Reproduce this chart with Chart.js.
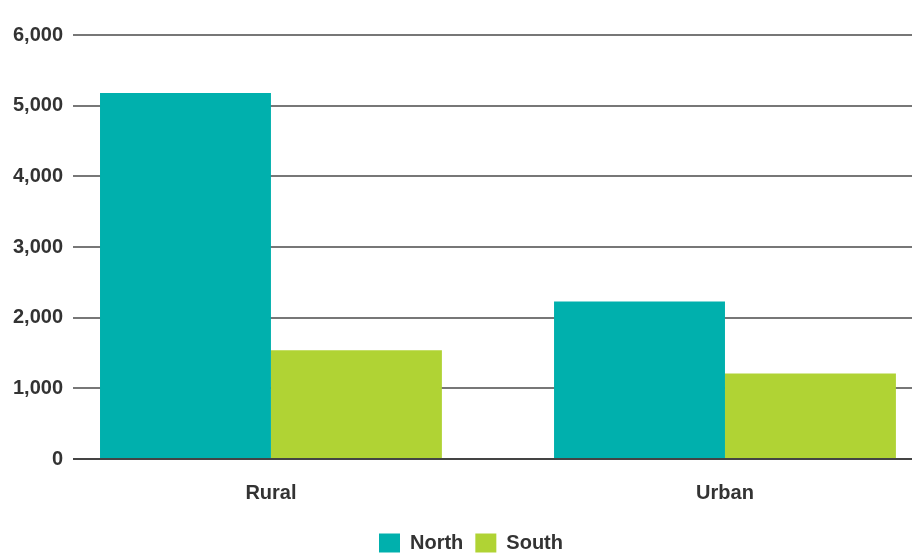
<!DOCTYPE html>
<html>
<head>
<meta charset="utf-8">
<script src="https://cdn.jsdelivr.net/npm/chart.js@4"></script>
<style>
  html, body { margin: 0; padding: 0; background: #fff; overflow: hidden; }
  #wrap { width: 942px; height: 556px; }
</style>
</head>
<body>
<div id="wrap"><canvas id="chart"></canvas></div>
<script>
// categories sit at x = 0 and 1 on a linear axis
const categories = ['Rural', 'Urban'];
const seriesNames = ['North', 'South'];
const northValues = [5180, 2230];
const southValues = [1540, 1210];
const yTicks = [0, 1000, 2000, 3000, 4000, 5000, 6000];

const toPoints = vals => vals.map((v, i) => ({ x: i, y: v }));
const font = { family: 'Liberation Sans, Arial, sans-serif', size: 20, weight: 'bold' };

new Chart(document.getElementById('chart'), {
    type: 'bar',
    data: {
        datasets: [
            { label: seriesNames[0], data: toPoints(northValues), backgroundColor: '#00b0ad' },
            { label: seriesNames[1], data: toPoints(southValues), backgroundColor: '#b0d334' }
        ]
    },
    options: {
        responsive: true, maintainAspectRatio: false, animation: false,
        categoryPercentage: 0.753, barPercentage: 1,
        layout: { padding: { top: 35, right: 0, bottom: -7, left: 0 } },
        plugins: {
            tooltip: { enabled: false },
            legend: {
                position: 'bottom',
                labels: { boxWidth: 21, boxHeight: 19, padding: 12, color: '#333', font: font }
            }
        },
        scales: {
            x: {
                type: 'linear', min: -0.436, max: 1.478, offset: false,
                afterBuildTicks: s => { s.ticks = categories.map((c, i) => ({ value: i })); },
                afterFit: s => { s.height = 62; },
                ticks: { callback: v => categories[v], color: '#333', font: font, padding: 14 },
                grid: { display: false },
                border: { display: false }
            },
            y: {
                min: 0, max: 6000,
                afterBuildTicks: s => { s.ticks = yTicks.map(v => ({ value: v })); },
                afterFit: s => { s.width = 73; },
                ticks: { callback: v => v.toLocaleString('en-US'), color: '#333', font: font, padding: 10 },
                grid: {
                    drawTicks: false, lineWidth: 2,
                    color: c => c.tick.value === 0 ? '#444' : '#777'
                },
                border: { display: false }
            }
        }
    }
});
</script>
</body>
</html>
